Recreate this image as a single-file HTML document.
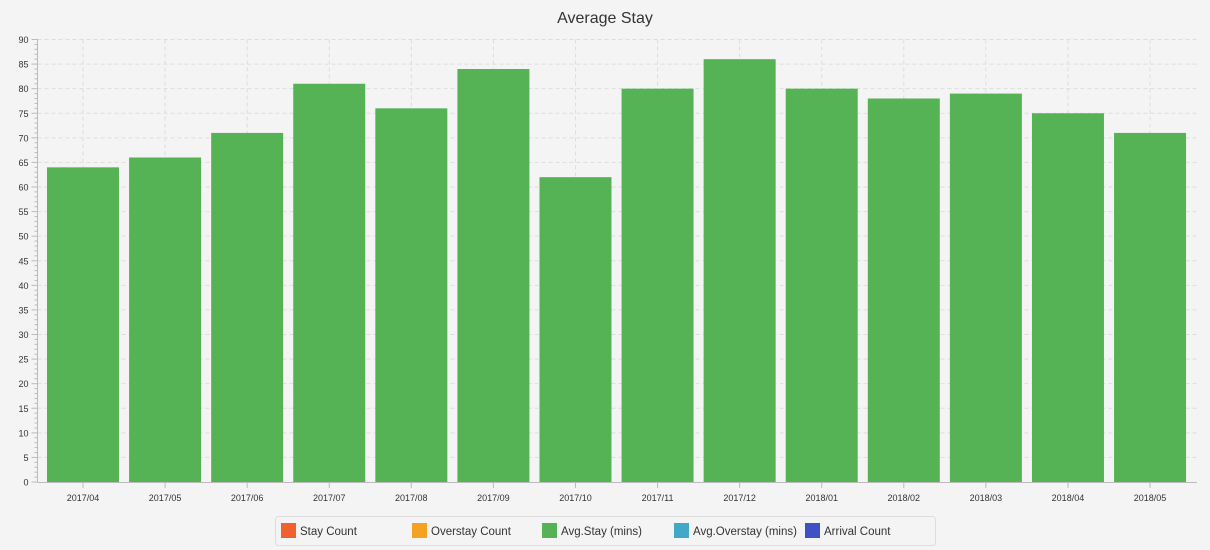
<!DOCTYPE html>
<html><head><meta charset="utf-8"><style>
body{margin:0;background:#f4f4f4;}
svg{display:block;font-family:"Liberation Sans",sans-serif;}
</style></head><body>
<svg width="1210" height="550" xmlns="http://www.w3.org/2000/svg">
<rect width="1210" height="550" fill="#f4f4f4"/>
<text x="605" y="23" font-size="16" text-anchor="middle" fill="#333">Average Stay</text>
<g id="grid"></g>
<g id="bars"></g>
<g id="axes"></g>
<rect x="275.5" y="516.5" width="660" height="29" rx="3" fill="#f4f4f4" stroke="#ddd"/>
<rect x="281" y="523" width="15" height="15" fill="#f0622d"/>
<text x="300" y="535" font-size="11.5" fill="#333">Stay Count</text>
<rect x="412" y="523" width="15" height="15" fill="#f4a21f"/>
<text x="431" y="535" font-size="11.5" fill="#333">Overstay Count</text>
<rect x="542" y="523" width="15" height="15" fill="#55b355"/>
<text x="561" y="535" font-size="11.5" fill="#333">Avg.Stay (mins)</text>
<rect x="674" y="523" width="15" height="15" fill="#41a8c8"/>
<text x="693" y="535" font-size="11.5" fill="#333">Avg.Overstay (mins)</text>
<rect x="805" y="523" width="15" height="15" fill="#3f51c7"/>
<text x="824" y="535" font-size="11.5" fill="#333">Arrival Count</text>
</svg>
<script>
const ns="http://www.w3.org/2000/svg";
function el(p,t,a,txt){const e=document.createElementNS(ns,t);for(const k in a)e.setAttribute(k,a[k]);if(txt!==undefined)e.textContent=txt;document.getElementById(p).appendChild(e);}
const y0=482,k=(482-39.5)/90,L=37.5,R=1197;
const vals=[64,66,71,81,76,84,62,80,86,80,78,79,75,71];
const labs=["2017/04","2017/05","2017/06","2017/07","2017/08","2017/09","2017/10","2017/11","2017/12","2018/01","2018/02","2018/03","2018/04","2018/05"];
for(let v=5;v<=90;v+=5){const y=y0-v*k;el("grid","line",{x1:L,x2:R,y1:y,y2:y,stroke:"#ddd","stroke-dasharray":"4,3"});}
labs.forEach((l,i)=>{const c=83+i*82.08;el("grid","line",{x1:c,x2:c,y1:39.5,y2:y0,stroke:"#ddd","stroke-dasharray":"4,3"});
el("bars","rect",{x:c-36,y:y0-vals[i]*k,width:72,height:vals[i]*k,fill:"#55b355"});
el("axes","line",{x1:c,x2:c,y1:y0,y2:y0+6,stroke:"#bbb"});
el("axes","text",{x:c,y:y0+19,"font-size":"9","text-anchor":"middle",fill:"#333"},l);});
el("axes","line",{x1:L,x2:L,y1:39,y2:y0,stroke:"#bbb"});
el("axes","line",{x1:L,x2:R,y1:y0+0.5,y2:y0+0.5,stroke:"#bbb"});
for(let v=0;v<=90;v++){const y=y0-v*k;const maj=v%5==0;el("axes","line",{x1:maj?L-6:L-3,x2:L,y1:y,y2:y,stroke:"#bbb"});
if(maj)el("axes","text",{x:L-9,y:y+3.5,"font-size":"9","text-anchor":"end",fill:"#333"},v);}
</script>
</body></html>
